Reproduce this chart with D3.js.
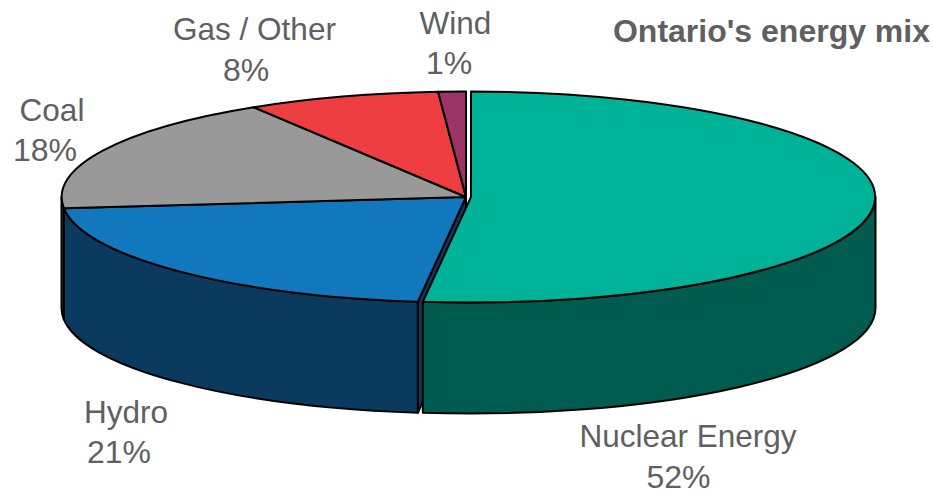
<!DOCTYPE html>
<html><head><meta charset="utf-8">
<script src="https://cdn.jsdelivr.net/npm/d3@7"></script>
<style>html,body{margin:0;padding:0;background:#fff}svg{display:block}text{font-family:"Liberation Sans",Arial,sans-serif;fill:#5f6062}</style>
</head><body>
<script>
const categories = ["Nuclear Energy", "Hydro", "Coal", "Gas / Other", "Wind"];
const shares = [51.9, 21.4, 17.9, 7.7, 1.1];
const shareLabels = ["52%", "21%", "18%", "8%", "1%"];
const topColors = ["#00B398", "#1278BE", "#999999", "#EE3E42", "#9B3366"];
const wallColors = ["#005C4E", "#0A3B5E", "#5c5c5c", "#8f2528", "#5c1f3d"];
const title = "Ontario's energy mix";

const W = 933, H = 490, cx = 466, cy = 197, rx = 404.5, ry = 105.5, depth = 111, explode = 5;
const svg = d3.select("body").append("svg").attr("width", W).attr("height", H);

const arcs = d3.pie().value(d => d).sort(null)(shares);
const px = (a, off) => cx + off + rx * Math.sin(a);
const py = a => cy - ry * Math.cos(a);
const arc = d3.arc().innerRadius(0).outerRadius(1);
const offset = i => i === 0 ? explode : 0;

// cut face of the hydro slice, seen through the gap left by the pulled-out nuclear slice
const hEnd = arcs[1].startAngle;
svg.append("path")
  .attr("d", `M${cx},${cy}L${px(hEnd,0)},${py(hEnd)}L${px(hEnd,0)},${py(hEnd)+depth}L${cx},${cy+depth}Z`)
  .attr("fill", wallColors[1]).attr("stroke", "#000").attr("stroke-width", 2).attr("stroke-linejoin", "round");

// outer walls: the part of each slice that faces the viewer
arcs.forEach((d, i) => {
  const a0 = Math.max(d.startAngle, Math.PI / 2), a1 = Math.min(d.endAngle, 3 * Math.PI / 2);
  if (a1 <= a0) return;
  const o = offset(i);
  const sweepLarge = a1 - a0 > Math.PI ? 1 : 0;
  const p = `M${px(a0,o)},${py(a0)}A${rx},${ry} 0 ${sweepLarge} 1 ${px(a1,o)},${py(a1)}`
    + `L${px(a1,o)},${py(a1)+depth}A${rx},${ry} 0 ${sweepLarge} 0 ${px(a0,o)},${py(a0)+depth}Z`;
  svg.append("path").attr("d", p).attr("fill", wallColors[i])
    .attr("stroke", "#000").attr("stroke-width", 2).attr("stroke-linejoin", "round");
});

// top faces
svg.append("g").selectAll("path").data(arcs).join("path")
  .attr("transform", (d, i) => `translate(${cx + offset(i)},${cy}) scale(${rx},${ry})`)
  .attr("d", arc)
  .attr("fill", (d, i) => topColors[i])
  .attr("stroke", "#000").attr("stroke-width", 2)
  .attr("stroke-linejoin", "round")
  .attr("vector-effect", "non-scaling-stroke");

// labels: [name centre x, name baseline, share centre x, share baseline]
const labelPlaces = [[688, 447, 678.5, 487.5], [126, 423, 119, 463], [52, 121, 45, 161], [254.5, 40, 246, 81], [455.5, 34, 449, 74]];
const fontSize = 31.5;
categories.forEach((c, i) => {
  const q = labelPlaces[i];
  svg.append("text").attr("x", q[0]).attr("y", q[1]).attr("text-anchor", "middle").attr("font-size", fontSize).text(c);
  svg.append("text").attr("x", q[2]).attr("y", q[3]).attr("text-anchor", "middle").attr("font-size", 32).text(shareLabels[i]);
});
svg.append("text").attr("x", 930).attr("y", 42).attr("text-anchor", "end")
  .attr("font-size", 32).attr("font-weight", "bold").text(title);
</script>
</body></html>
